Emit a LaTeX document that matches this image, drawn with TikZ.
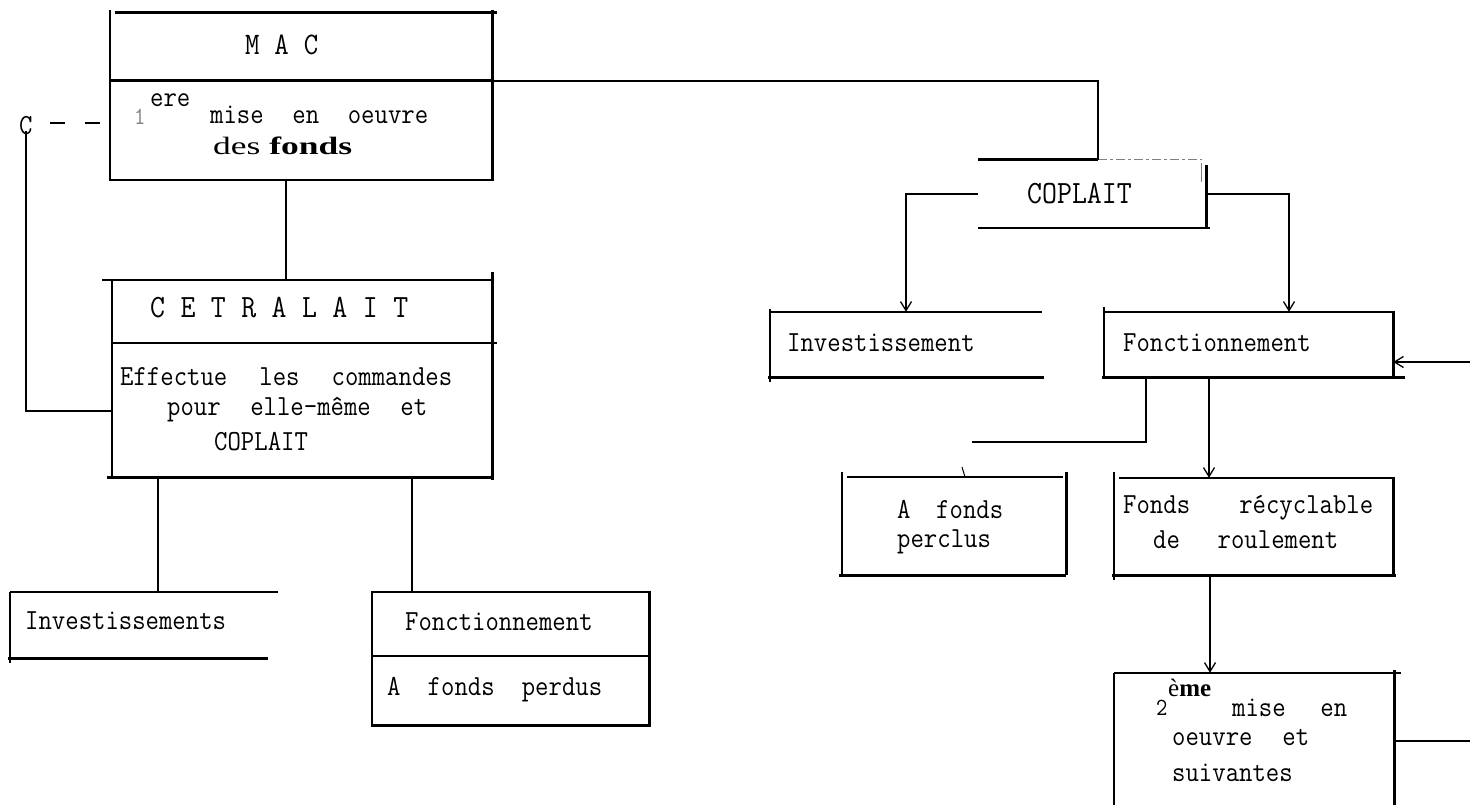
\documentclass[tikz,border=0pt]{standalone}
\usepackage{fontspec}
\usepackage{graphicx}
\newfontfamily\seriff{Liberation Serif}
\usetikzlibrary{arrows.meta}
\newcommand\tx[1]{\scalebox{1}[1.12]{#1}}
\newcommand\sx[2]{\scalebox{1}[1.12]{\makebox[#1pt][l]{#2}}}
\newcommand\gp{\hspace{0pt plus 1fill}}
\begin{document}
\begin{tikzpicture}[x=1pt,y=-1pt,
  bl/.style={line width=2.6pt},
  cn/.style={line width=2pt},
  ar/.style={line width=2pt,-{Straight Barb[length=9pt,width=11pt,line width=1.3pt]}},
  txt/.style={inner sep=0pt,anchor=west,font=\ttfamily\fontsize{26}{29}\selectfont},
  big/.style={txt,font=\ttfamily\fontsize{29}{32}\selectfont},
  box/.style={inner sep=0pt,draw=none,rectangle}
]
\useasboundingbox (0,0) rectangle (1470,805);

% ---------- box frames (invisible nodes) ----------
\node[box,minimum width=382pt,minimum height=167pt] (mac)  at (301,96.5) {};
\node[box,minimum width=380pt,minimum height=197pt] (cet)  at (302,378.5) {};
\node[box,minimum width=263pt,minimum height=66pt]  (invL) at (141.5,625) {};
\node[box,minimum width=277pt,minimum height=133pt] (fonL) at (510.5,658.5) {};
\node[box,minimum width=228pt,minimum height=68pt]  (cop)  at (1092,194) {};
\node[box,minimum width=272pt,minimum height=65pt]  (invR) at (906,344.5) {};
\node[box,minimum width=289pt,minimum height=65pt]  (fonR) at (1248.5,344.5) {};
\node[box,minimum width=224pt,minimum height=98pt]  (per)  at (954,526) {};
\node[box,minimum width=279pt,minimum height=97pt]  (fds)  at (1253.5,526.5) {};
\node[box,minimum width=280pt,minimum height=142pt] (sec)  at (1254,744) {};

% MAC
\draw[bl] ([shift={(5,0)}]mac.north west) -- ([shift={(5,0)}]mac.north east);
\draw[bl] ([shift={(0,-3)}]mac.north west) -- (mac.south west) -- (mac.south east) -- ([shift={(0,-3)}]mac.north east);
\coordinate (macdivW) at ([shift={(0,68)}]mac.north west);
\coordinate (macdivE) at ([shift={(0,68)}]mac.north east);
\draw[bl] (macdivW) -- (macdivE);
% CETRALAIT
\draw[bl] ([shift={(-10,0)}]cet.north west) -- (cet.north east);
\draw[bl] (cet.north west) -- (cet.south west);
\draw[bl] ([shift={(0,-8)}]cet.north east) -- ([shift={(0,3)}]cet.south east);
\draw[bl] ([shift={(0,63)}]cet.north west) -- ([shift={(5,63)}]cet.north east);
\draw[bl] ([shift={(-5,0)}]cet.south west) -- (cet.south east);
% Investissements (left)
\draw[bl] (invL.north west) -- ([shift={(5,0)}]invL.north east);
\draw[bl] (invL.north west) -- ([shift={(0,5)}]invL.south west);
\draw[bl] ([shift={(-2,0)}]invL.south west) -- ([shift={(-5,0)}]invL.south east);
% Fonctionnement (left)
\draw[bl] (fonL.north west) rectangle (fonL.south east);
\draw[bl] ([shift={(0,64)}]fonL.north west) -- ([shift={(0,64)}]fonL.north east);
% COPLAIT
\draw[bl] (cop.north west) -- ([shift={(6,0)}]cop.north);
\draw[line width=1.4pt,draw=gray,dash pattern=on 9pt off 3pt on 3pt off 3pt] ([shift={(6,0)}]cop.north) -- ([shift={(-4,0)}]cop.north east);
\draw[line width=1pt,draw=gray] ([shift={(-5,3)}]cop.north east) -- ([shift={(-5,22)}]cop.north east);
\draw[bl] ([shift={(0,5)}]cop.north east) -- (cop.south east);
\draw[bl] (cop.south west) -- ([shift={(4,0)}]cop.south east);
% Investissement (right)
\draw[bl] (invR.north west) -- (invR.north east);
\draw[bl] ([shift={(0,-3)}]invR.north west) -- ([shift={(0,5)}]invR.south west);
\draw[bl] ([shift={(-2,0)}]invR.south west) -- ([shift={(2,0)}]invR.south east);
% Fonctionnement (right)
\draw[bl] (fonR.north west) -- (fonR.north east) -- (fonR.south east);
\draw[bl] ([shift={(0,-5)}]fonR.north west) -- (fonR.south west);
\draw[bl] ([shift={(-2,0)}]fonR.south west) -- ([shift={(12,0)}]fonR.south east);
% A fonds perclus
\draw[bl] ([shift={(5,0)}]per.north west) -- ([shift={(-3,0)}]per.north east);
\draw[bl] ([shift={(0,-5)}]per.north west) -- (per.south west);
\draw[bl] ([shift={(0,-5)}]per.north east) -- (per.south east);
\draw[bl] ([shift={(-3,0)}]per.south west) -- (per.south east);
% Fonds recyclable
\draw[bl] ([shift={(5,0)}]fds.north west) -- (fds.north east) -- (fds.south east);
\draw[bl] ([shift={(0,-6)}]fds.north west) -- ([shift={(0,5)}]fds.south west);
\draw[bl] ([shift={(-2,0)}]fds.south west) -- ([shift={(3,0)}]fds.south east);
% 2eme
\draw[bl] (sec.north west) -- ([shift={(7,0)}]sec.north east);
\draw[bl] (sec.north west) -- (sec.south west);
\draw[bl] ([shift={(0,-3)}]sec.north east) -- (sec.south east);

% ---------- texts ----------
\node[txt,font=\ttfamily\fontsize{28}{31}\selectfont] (tmac) at (245,45) {\sx{73}{M\gp A\gp C}};
\node[txt,text=gray,font=\ttfamily\fontsize{22}{25}\selectfont] (t1) at (134,117) {\tx{1}};
\node[txt] (tere) at (150,100) {\tx{ere}};
\node[txt] (tmise) at (210,115) {\sx{218}{mise\gp en\gp oeuvre}};
\node[txt,font=\seriff\fontsize{25}{28}\selectfont] (tdes) at (213,146) {\scalebox{1.42}[1]{des \textbf{fonds}}};
\node[big] (tcet) at (150,308) {\sx{258}{C\gp E\gp T\gp R\gp A\gp L\gp A\gp I\gp T}};
\node[txt] (teff) at (120,377) {\sx{332}{Effectue\gp les\gp commandes}};
\node[txt] (tpour) at (167,410) {\sx{260}{pour\gp elle-même\gp et}};
\node[txt] (tcop1) at (214,442) {\tx{COPLAIT}};
\node[txt] (tinvL) at (25,621) {\tx{Investissements}};
\node[txt] (tfonL) at (405,622) {\tx{Fonctionnement}};
\node[txt] (tafp) at (387,690) {\sx{215}{A\gp fonds\gp perdus}};
\node[big] (tcop2) at (1027,194) {\tx{COPLAIT}};
\node[txt] (tinvR) at (787,343) {\tx{Investissement}};
\node[txt] (tfonR) at (1123,343) {\tx{Fonctionnement}};
\node[txt] (taf) at (897,509) {\sx{106}{A\gp fonds}};
\node[txt] (tperc) at (897,542) {\tx{perclus}};
\node[txt] (tfr) at (1123,508) {\sx{250}{Fonds\gp récyclable}};
\node[txt] (tdr) at (1153,540) {\sx{185}{de\gp roulement}};
\node[txt,font=\ttfamily\fontsize{22}{25}\selectfont] (t2) at (1156,708) {\tx{2}};
\node[txt,font=\seriff\fontsize{25}{28}\selectfont] (teme) at (1168,688) {è\textbf{me}};
\node[txt] (tme) at (1232,708) {\sx{115}{mise\gp en}};
\node[txt] (toe) at (1172,738) {\sx{137}{oeuvre\gp et}};
\node[txt] (tsui) at (1172,773) {\tx{suivantes}};
\node[txt] (cc) at (19,126) {\tx{C}};

% ---------- connectors ----------
\draw[cn] ([shift={(-15,0)}]mac.south) -- ([shift={(-15,0)}]mac.south |- cet.north);
\draw[cn] (macdivE) -| ([shift={(6,0)}]cop.north);
\draw[ar] (cop.west) -| (invR.north);
\draw[ar] (cop.east) -| ([shift={(40.5,0)}]fonR.north);
\coordinate (rin) at (1470,362);
\draw[ar] (rin) -- (fonR.east |- rin);
\coordinate (cut) at (972,442);
\draw[cn] ([shift={(-102.5,0)}]fonR.south) |- (cut);
\draw[line width=1pt] (962,467) -- (965,477);
\draw[ar] ([shift={(-39.5,0)}]fonR.south) -- ([shift={(-39.5,0)}]fonR.south |- fds.north);
\draw[ar] ([shift={(-43.5,0)}]fds.south) -- ([shift={(-43.5,0)}]fds.south |- sec.north);
\coordinate (rout) at (1470,741);
\draw[cn] (sec.east |- rout) -- (rout);
\draw[cn] ([shift={(-144,0)}]cet.south) -- ([shift={(-144,0)}]cet.south |- invL.north);
\draw[cn] ([shift={(110,0)}]cet.south) -- ([shift={(110,0)}]cet.south |- fonL.north);
\coordinate (lk) at (26,411);
\draw[cn] (26,131) -- (lk) -- (cet.west |- lk);
\draw[line width=1.6pt,dash pattern=on 15pt off 20pt] (50,123) -- (mac.west |- 0,123);
\end{tikzpicture}
\end{document}
